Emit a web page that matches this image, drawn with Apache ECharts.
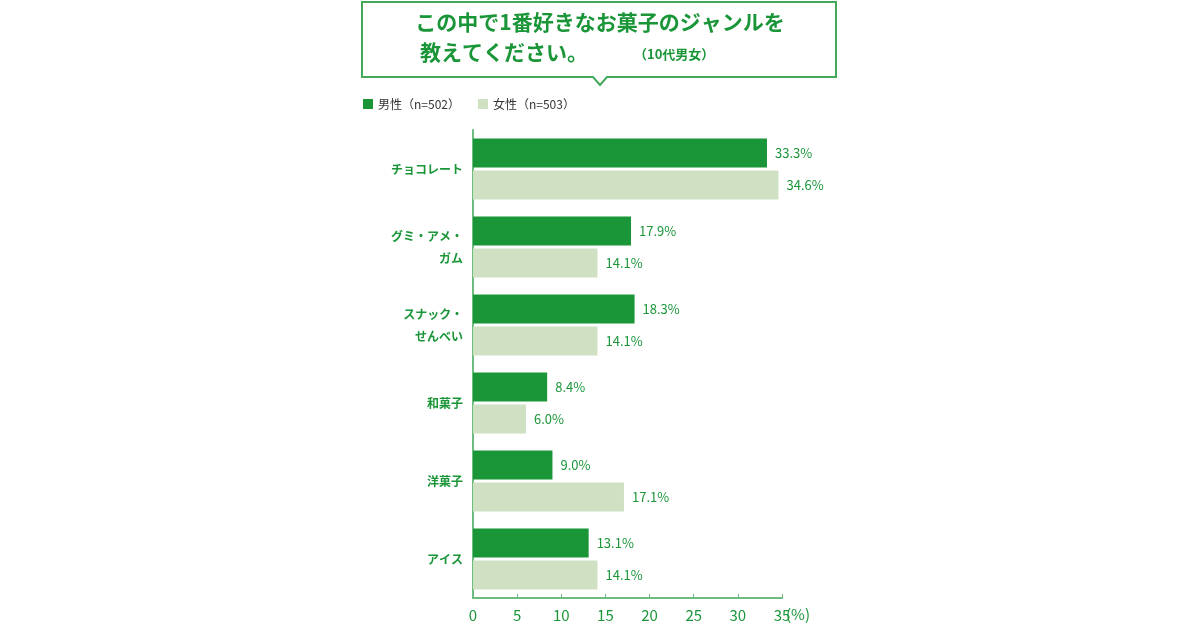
<!DOCTYPE html>
<html><head><meta charset="utf-8">
<script src="https://cdn.jsdelivr.net/npm/echarts@6/dist/echarts.min.js"></script>
<style>html,body{margin:0;background:#fff}#main{width:1200px;height:630px}</style>
</head><body><div id="main"></div>
<script>
// カテゴリと値
const categories = ['チョコレート', 'グミ・アメ・\nガム', 'スナック・\nせんべい', '和菓子', '洋菓子', 'アイス'];
const male = [33.3, 17.9, 18.3, 8.4, 9.0, 13.1];
const female = [34.6, 14.1, 14.1, 6.0, 17.1, 14.1];
const xTicks = [0, 5, 10, 15, 20, 25, 30, 35];

const green = '#1a9639';
const lightGreen = '#cfe0c3';
const font = '"Noto Sans CJK JP", sans-serif';

const chart = echarts.init(document.getElementById('main'));
const label = {show: true, position: 'right', distance: 8, color: green, fontSize: 13, fontFamily: font,
  formatter: p => p.value.toFixed(1) + '%'};
chart.setOption({
  animation: false,
  textStyle: {fontFamily: font},
  graphic: [
    {type: 'polygon', shape: {points: [[362,2],[836,2],[836,77],[607,77],[600,85],[593,77],[362,77]]},
      style: {fill: '#fff', stroke: '#44a85a', lineWidth: 2}},
    {type: 'text', left: 'center', top: 12, style: {text: 'この中で1番好きなお菓子のジャンルを', fill: green, font: 'bold 21px ' + font}},
    {type: 'text', left: 420, top: 42, style: {text: '教えてください。', fill: green, font: 'bold 21px ' + font}},
    {type: 'text', left: 634, top: 48, style: {text: '（10代男女）', fill: green, font: 'bold 13px ' + font}}
  ],
  legend: {left: 358, top: 93, itemWidth: 10, itemHeight: 10, itemGap: 18, icon: 'rect',
    textStyle: {fontSize: 12, color: '#333'}, data: ['男性（n=502）', '女性（n=503）']},
  grid: {left: 473, top: 130, width: 309, height: 468},
  xAxis: {type: 'value', min: 0, max: 35, interval: 5,
    axisLine: {show: true, lineStyle: {color: '#6cbd7f', width: 2}},
    axisTick: {show: true, inside: true, length: 4, lineStyle: {color: '#6cbd7f'}},
    splitLine: {show: false},
    axisLabel: {color: green, fontSize: 15, margin: 10,
      formatter: v => xTicks.includes(v) ? String(v) : ''}},
  yAxis: {type: 'category', inverse: true, data: categories,
    axisLine: {show: true, lineStyle: {color: '#6cbd7f', width: 2}},
    axisTick: {show: false},
    axisLabel: {color: green, fontSize: 12, fontWeight: 'bold', margin: 10, align: 'right', lineHeight: 22}},
  series: [
    {name: '男性（n=502）', type: 'bar', data: male, barWidth: 29, barGap: '10%', itemStyle: {color: green}, label},
    {name: '女性（n=503）', type: 'bar', data: female, barWidth: 29, itemStyle: {color: lightGreen}, label}
  ]
});
chart.setOption({graphic: [
  {type: 'polygon', shape: {points: [[362,2],[836,2],[836,77],[607,77],[600,85],[593,77],[362,77]]},
    style: {fill: '#fff', stroke: '#44a85a', lineWidth: 2}},
  {type: 'text', left: 'center', top: 12, style: {text: 'この中で1番好きなお菓子のジャンルを', fill: green, font: 'bold 21px ' + font}},
  {type: 'text', left: 420, top: 42, style: {text: '教えてください。', fill: green, font: 'bold 21px ' + font}},
  {type: 'text', left: 634, top: 48, style: {text: '（10代男女）', fill: green, font: 'bold 13px ' + font}},
  {type: 'text', left: 786, top: 607, style: {text: '(%)', fill: green, font: '15px ' + font}}
]});
</script></body></html>
